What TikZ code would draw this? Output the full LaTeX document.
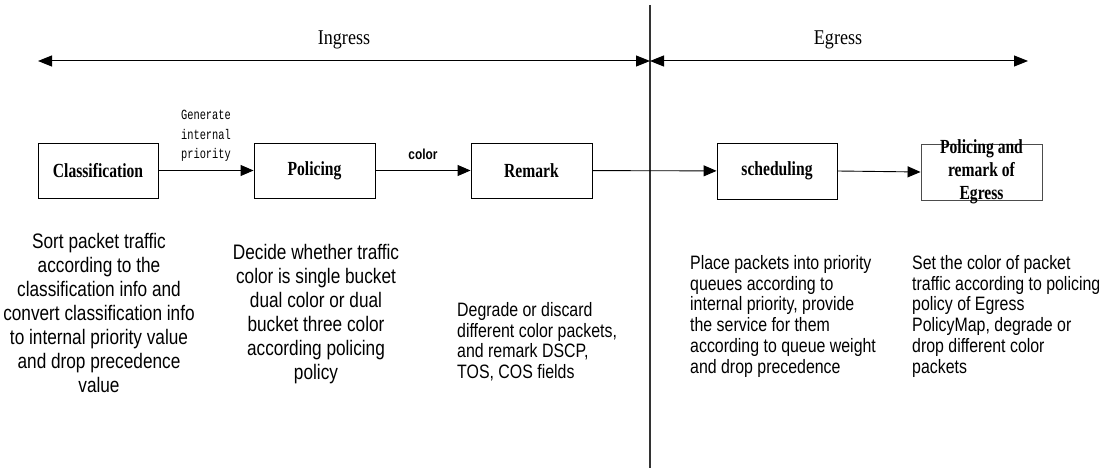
\documentclass[tikz,border=0pt]{standalone}
\usepackage{fontspec}
\setmainfont{Liberation Serif}
\newfontfamily\descfont[FakeStretch=0.82]{Liberation Sans}
\newfontfamily\boxfont[FakeStretch=0.78]{Liberation Serif}
\newfontfamily\labfont[FakeStretch=0.86]{Liberation Serif}
\newfontfamily\monofont[FakeStretch=0.74]{Liberation Mono}
\usetikzlibrary{arrows.meta}
\begin{document}
\begin{tikzpicture}[x=1pt,y=-1pt,
  stage/.style={draw=black, line width=0.9pt, minimum width=120pt, minimum height=55pt, inner sep=0pt,
    font=\boxfont\bfseries\fontsize{20}{23}\selectfont, align=center},
  flow/.style={-{Triangle[length=13pt,width=11pt]}, line width=0.9pt},
  span/.style={{Triangle[length=14pt,width=11pt]}-{Triangle[length=14pt,width=11pt]}, line width=1pt},
  desc/.style={font=\descfont\fontsize{21}{24}\selectfont, inner sep=0pt},
  descs/.style={font=\descfont\fontsize{19.4}{20.8}\selectfont, inner sep=0pt},
  region/.style={font=\labfont\fontsize{21}{24}\selectfont, inner sep=0pt},
  edgelab/.style={inner sep=0pt}]
\useasboundingbox (0,0) rectangle (1113,470);
% divider
\coordinate (vt) at (650,5);
\coordinate (vb) at (650,468);
\draw[line width=1.1pt, black!80] (vt) -- (vb);
% region arrows
\coordinate (inL) at (38,61);
\coordinate (mid) at (650,61);
\coordinate (egR) at (1028,61);
\draw[span] (inL) -- (mid);
\draw[span] (mid) -- (egR);
\node[region] (ingress) at (344,40) {Ingress};
\node[region] (egress) at (838,40) {Egress};
% stages
\node[stage] (cls) at (98,170.5) {Classification};
\node[stage, minimum width=121pt] (pol) at (314.5,170.5) {Policing};
\node[stage, minimum width=121pt] (rem) at (531.5,170.5) {Remark};
\node[stage, minimum height=56pt] (sch) at (777,171) {scheduling};
\node[stage, draw=black!70, minimum width=121pt, minimum height=56pt] (pe) at (981.5,172) {};
\node[font=\boxfont\bfseries\fontsize{20}{23}\selectfont, align=center, inner sep=0pt] (pet) at (pe.center) {Policing and\\remark of\\Egress};
% connectors
\draw[flow] (cls) -- (pol);
\draw[flow] (pol) -- (rem);
\draw[flow] (rem) -- (sch);
\draw[flow] (sch.east) -- (pe.west);
% connector labels
\node[edgelab, font=\monofont\fontsize{14}{19.5}\selectfont, align=center] (gen) at (206,136) {Generate\\internal\\priority};
\node[edgelab, font=\descfont\bfseries\fontsize{14.5}{16}\selectfont] (col) at (423,154) {color};
% descriptions
\node[desc, align=center, anchor=north] (d1) at (99,233.5) {Sort packet traffic\\according to the\\classification info and\\convert classification info\\to internal priority value\\and drop precedence\\value};
\node[desc, align=center, anchor=north] (d2) at (316,244.5) {Decide whether traffic\\color is single bucket\\dual color or dual\\bucket three color\\according policing\\policy};
\node[descs, align=left, anchor=north west] (d3) at (457,302) {Degrade or discard\\different color packets,\\and remark DSCP,\\TOS, COS fields};
\node[descs, align=left, anchor=north west] (d4) at (690,255) {Place packets into priority\\queues according to\\internal priority, provide\\the service for them\\according to queue weight\\and drop precedence};
\node[descs, align=left, anchor=north west] (d5) at (912,255) {Set the color of packet\\traffic according to policing\\policy of Egress\\PolicyMap, degrade or\\drop different color\\packets};
\end{tikzpicture}
\end{document}
